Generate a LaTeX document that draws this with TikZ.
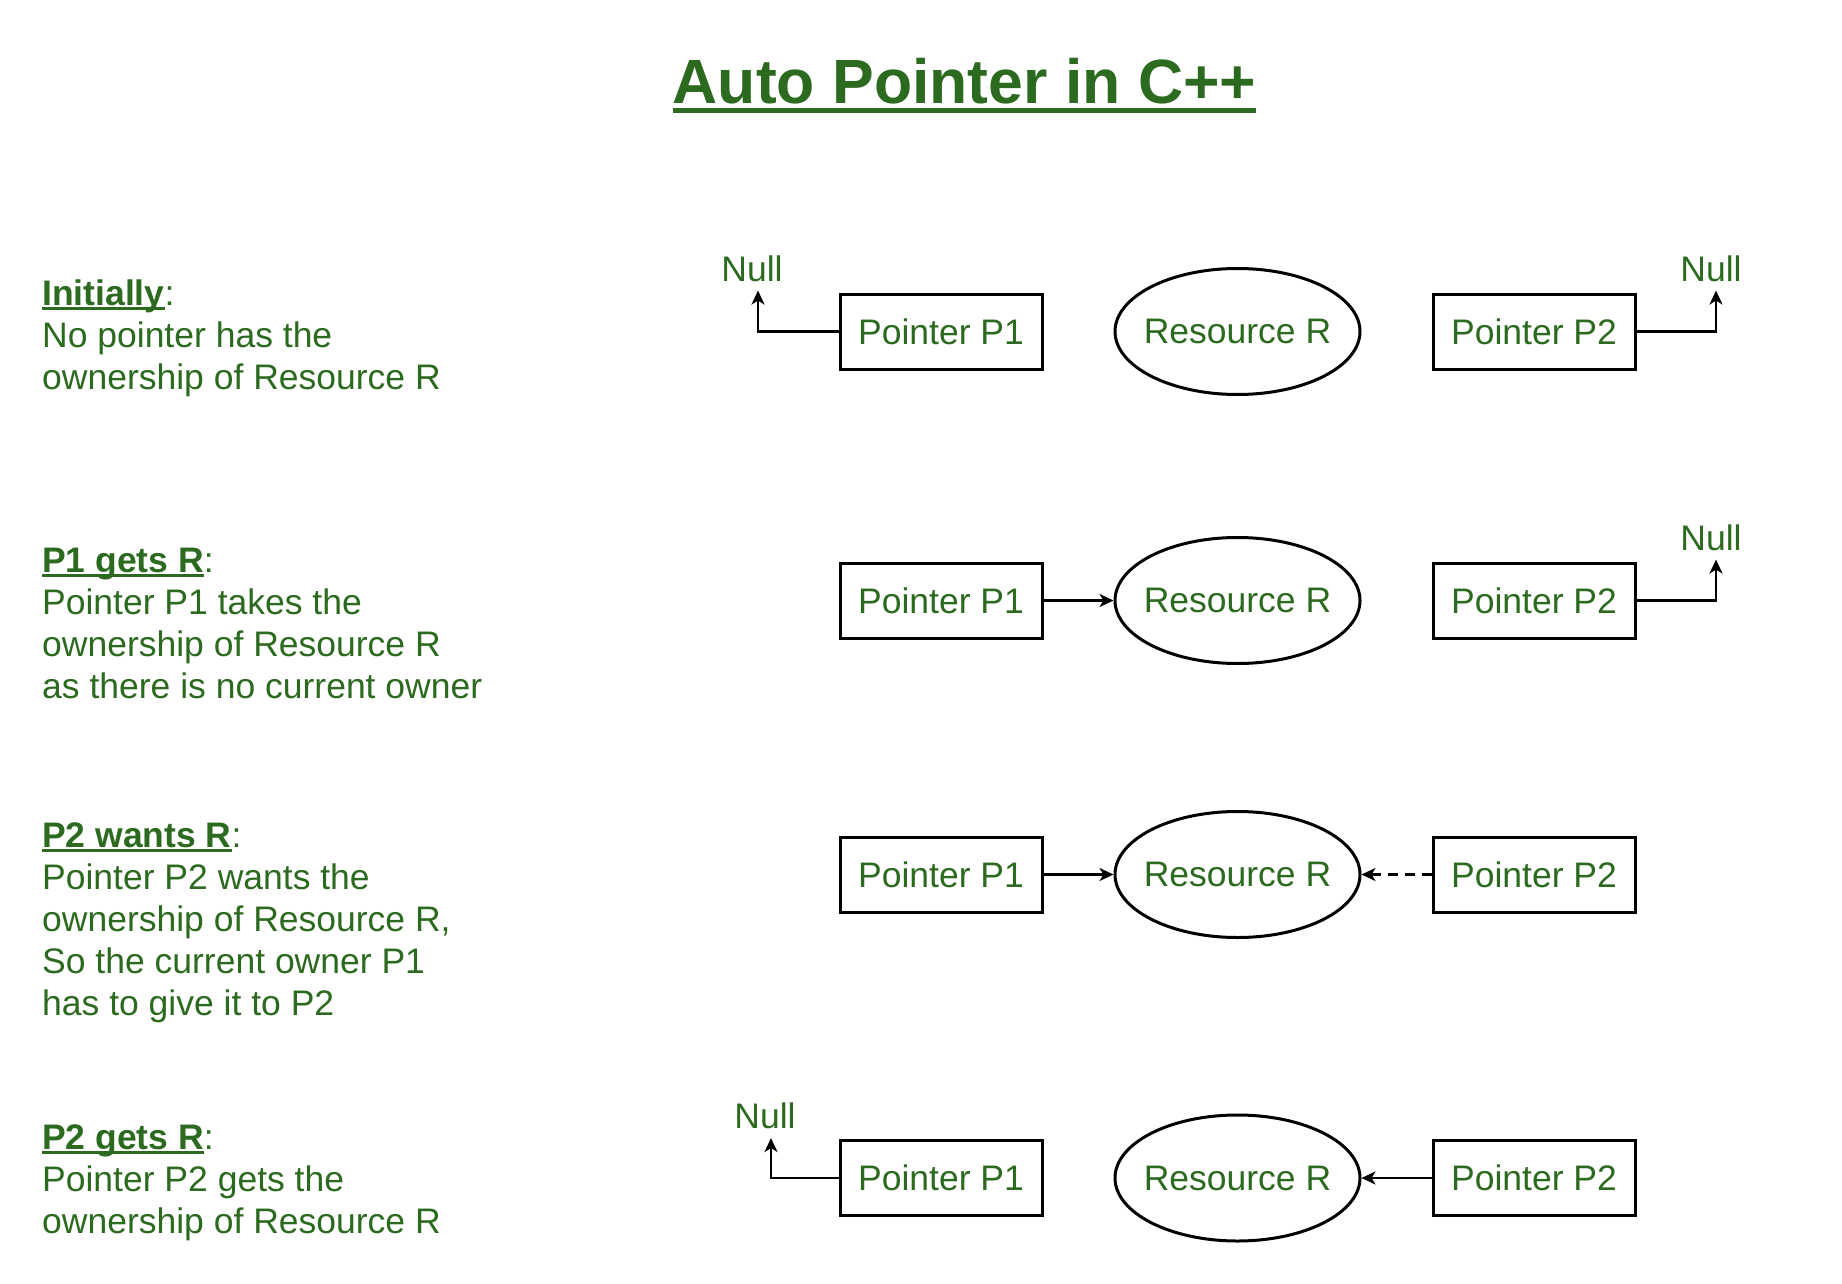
\documentclass[tikz,border=0pt]{standalone}
\usepackage{fontspec}
\setmainfont{Liberation Sans}
\usetikzlibrary{arrows.meta,shapes.geometric}
\definecolor{gfg}{RGB}{44,106,31}
\newcommand\myul[3]{\setbox0\hbox{#3}\rlap{\rule[-#1]{\wd0}{#2}}\box0}
\begin{document}
\begin{tikzpicture}[x=1pt,y=-1pt,
  every node/.style={text=gfg, font=\fontsize{35.5}{42}\selectfont, inner sep=0pt},
  ptr/.style={draw=black, line width=3pt, minimum width=202pt, minimum height=75pt},
  res/.style={draw=black, ellipse, line width=3pt, minimum width=245pt, minimum height=126pt},
  conn/.style={draw=black, line width=2.5pt, -{Stealth[length=14pt,width=13pt,inset=4pt]}},
  lbl/.style={anchor=base west},
  nul/.style={anchor=base}]
\useasboundingbox (0,0) rectangle (1842,1284);

% title
\node[anchor=base, font=\fontsize{62.5}{75}\selectfont\bfseries] (title) at (964.5,104) {\myul{9pt}{5pt}{Auto Pointer in C++}};

% left texts
\node[lbl] (h1) at (42,305) {\myul{5pt}{3pt}{\bfseries Initially}:};
\node[lbl] (t1a) at (42,347) {No pointer has the};
\node[lbl] (t1b) at (42,389) {ownership of Resource R};

\node[lbl] (h2) at (42,572) {\myul{5pt}{3pt}{\bfseries P1 gets R}:};
\node[lbl] (t2a) at (42,614) {Pointer P1 takes the};
\node[lbl] (t2b) at (42,656) {ownership of Resource R};
\node[lbl] (t2c) at (42,698) {as there is no current owner};

\node[lbl] (h3) at (42,847) {\myul{5pt}{3pt}{\bfseries P2 wants R}:};
\node[lbl] (t3a) at (42,889) {Pointer P2 wants the};
\node[lbl] (t3b) at (42,931) {ownership of Resource R,};
\node[lbl] (t3c) at (42,973) {So the current owner P1};
\node[lbl] (t3d) at (42,1015) {has to give it to P2};

\node[lbl] (h4) at (42,1149) {\myul{5pt}{3pt}{\bfseries P2 gets R}:};
\node[lbl] (t4a) at (42,1191) {Pointer P2 gets the};
\node[lbl] (t4b) at (42,1233) {ownership of Resource R};

% row 1
\node[ptr] (a1) at (941,331.5) {Pointer P1};
\node[res] (r1) at (1237.5,331.5) {\makebox[0pt]{Resource R}};
\node[ptr] (b1) at (1534,331.5) {Pointer P2};
\node[nul] (na1) at (752,281) {Null};
\node[nul] (nb1) at (1711,281) {Null};
\draw[conn] (a1.west) -| ([xshift=6pt,yshift=-9pt]na1.south);
\draw[conn] (b1.east) -| ([xshift=5pt,yshift=-9pt]nb1.south);

% row 2
\node[ptr] (a2) at (941,600.5) {Pointer P1};
\node[res] (r2) at (1237.5,600.5) {\makebox[0pt]{Resource R}};
\node[ptr] (b2) at (1534,600.5) {Pointer P2};
\node[nul] (nb2) at (1711,550) {Null};
\draw[conn] (a2) -- (r2);
\draw[conn] (b2.east) -| ([xshift=5pt,yshift=-9pt]nb2.south);

% row 3
\node[ptr] (a3) at (941,874.5) {Pointer P1};
\node[res] (r3) at (1237.5,874.5) {\makebox[0pt]{Resource R}};
\node[ptr] (b3) at (1534,874.5) {Pointer P2};
\draw[conn] (a3) -- (r3);
\draw[conn, dash pattern=on 10pt off 7pt] (b3) -- (r3);

% row 4
\node[ptr] (a4) at (941,1178) {Pointer P1};
\node[res] (r4) at (1237.5,1178) {\makebox[0pt]{Resource R}};
\node[ptr] (b4) at (1534,1178) {Pointer P2};
\node[nul] (na4) at (765,1128.5) {Null};
\draw[conn] (a4.west) -| ([xshift=6pt,yshift=-9pt]na4.south);
\draw[conn] (b4) -- (r4);
\end{tikzpicture}
\end{document}
